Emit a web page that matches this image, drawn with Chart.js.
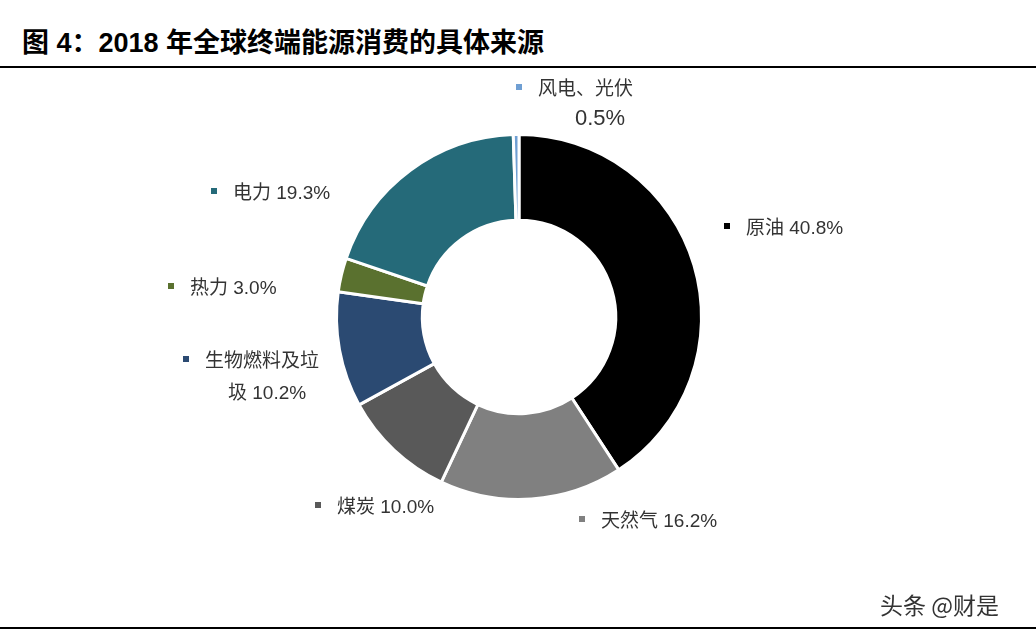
<!DOCTYPE html>
<html>
<head>
<meta charset="utf-8">
<script src="https://cdn.jsdelivr.net/npm/chart.js@4/dist/chart.umd.min.js"></script>
<style>
  body { margin: 0; background: #fff; }
  #wrap { position: relative; width: 1036px; height: 633px; }
  #title { position: absolute; left: 22px; top: 21px; font: bold 27px "Liberation Sans", "Noto Sans CJK SC", sans-serif; color: #000; }
  .rule { position: absolute; left: 0; width: 1036px; height: 2px; background: #000; }
  #mark { position: absolute; left: 880px; top: 587px; font: 23px "Noto Sans CJK SC", sans-serif; color: #333; }
  canvas { position: absolute; left: 0; top: 0; }
</style>
</head>
<body>
<div id="wrap">
  <div id="title">图 4：2018 年全球终端能源消费的具体来源</div>
  <div class="rule" style="top:66px"></div>
  <div class="rule" style="top:627px"></div>
  <canvas id="myChart" width="1036" height="633"></canvas>
  <div id="mark">头条 @财是</div>
</div>
<script>
var categories = ["原油", "天然气", "煤炭", "生物燃料及垃圾", "热力", "电力", "风电、光伏"];
var shares = [40.8, 16.2, 10.0, 10.2, 3.0, 19.3, 0.5];
var colours = ["#000000", "#808080", "#595959", "#2b4a72", "#5a712f", "#256a79", "#6f9fd3"];

// label text lines and where they sit
var labelSpots = [
  { lines: ["原油 40.8%"], x: 727, y: 229 },
  { lines: ["天然气 16.2%"], x: 582, y: 522 },
  { lines: ["煤炭 10.0%"], x: 318, y: 508 },
  { lines: ["生物燃料及垃", "圾 10.2%"], x: 186, y: 362, second: 228 },
  { lines: ["热力 3.0%"], x: 171, y: 289 },
  { lines: ["电力 19.3%"], x: 214, y: 194 },
  { lines: ["风电、光伏", "0.5%"], x: 519, y: 90, center: 600 }
];

var labelPlugin = {
  id: "labels",
  afterDraw: function(chart) {
    var c = chart.ctx;
    c.save();
    c.textBaseline = "middle";
    for (var i = 0; i < labelSpots.length; i++) {
      var s = labelSpots[i];
      c.fillStyle = colours[i];
      c.fillRect(s.x - 3, s.y - 6, 6, 6);
      c.fillStyle = "#333";
      c.font = '19px "Liberation Sans", "Noto Sans CJK SC", sans-serif';
      c.textAlign = "left";
      c.fillText(s.lines[0], s.x + 19, s.y);
      if (s.lines.length > 1) {
        if (s.center) {
          c.font = '22px "Liberation Sans", sans-serif';
          c.textAlign = "center";
          c.fillText(s.lines[1], s.center, s.y + 29);
        } else {
          c.fillText(s.lines[1], s.second, s.y + 32);
        }
      }
    }
    c.restore();
  }
};

var ctx = document.getElementById("myChart").getContext("2d");
var chart = new Chart(ctx, {
  type: "doughnut",
  data: {
    labels: categories,
    datasets: [{ data: shares, backgroundColor: colours, borderColor: "#fff", borderWidth: 3 }]
  },
  options: {
    responsive: false,
    animation: false,
    cutout: "53%",
    layout: { padding: { left: 335, right: 333, top: 133, bottom: 132 } },
    plugins: { legend: { display: false }, tooltip: { enabled: false } }
  },
  plugins: [labelPlugin]
});
</script>
</body>
</html>
